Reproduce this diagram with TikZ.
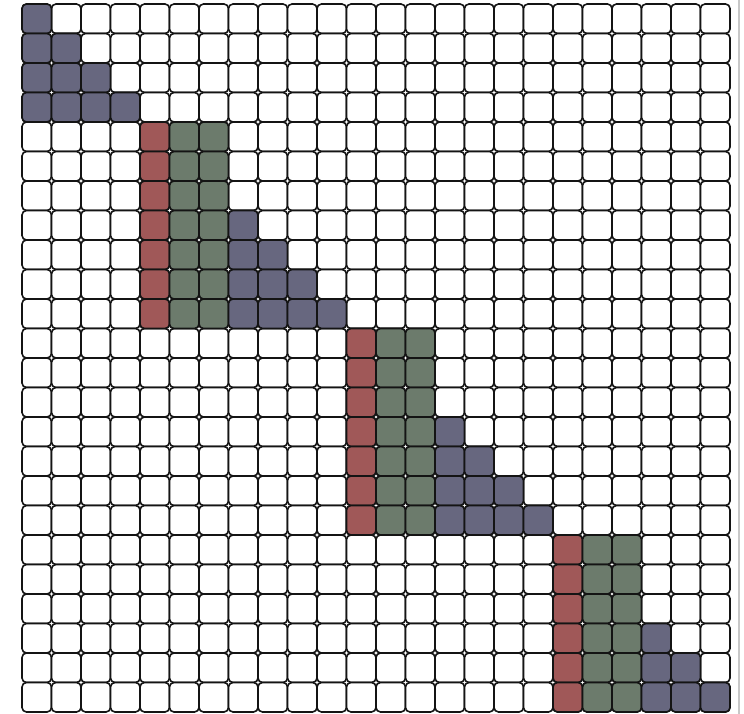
\documentclass[tikz,border=0pt]{standalone}
\usetikzlibrary{calc}
\definecolor{blockblue}{HTML}{67677F}
\definecolor{blockred}{HTML}{A05858}
\definecolor{blockgreen}{HTML}{6C7B6C}
\definecolor{edge}{HTML}{141414}
\definecolor{rim}{HTML}{C8C8C8}
\newcommand{\cellw}{29.5}
\tikzset{cellbox/.style={draw=edge, line width=1.6pt, rounded corners=4.5pt}}
\newcommand{\gridcell}[3]{%
  \pgfmathsetmacro{\cx}{22+(#1)*\cellw}
  \pgfmathsetmacro{\cy}{-4-(#2)*\cellw}
  \filldraw[cellbox, fill=#3] (\cx,\cy) rectangle ++(\cellw,-\cellw);
}
\begin{document}
\begin{tikzpicture}[x=1pt, y=1pt, line join=round]
\useasboundingbox (0,0) rectangle (744,-714);

% ---------------- empty grid ----------------
\foreach \r in {0,...,23}{
  \foreach \c in {0,...,23}{\gridcell{\c}{\r}{white}}
}

% ---------------- red / green bands ----------------
\foreach \ra/\rb/\c in {4/10/4, 11/17/11, 18/23/18}{
  \foreach \r in {\ra,...,\rb}{
    \gridcell{\c}{\r}{blockred}
    \gridcell{\c+1}{\r}{blockgreen}
    \gridcell{\c+2}{\r}{blockgreen}
  }
}

% ---------------- blue triangles ----------------
\foreach \s/\n in {0/3, 7/3, 14/3, 21/2}{
  \foreach \i in {0,...,\n}{
    \foreach \j in {0,...,\i}{\gridcell{\s+\j}{\s+\i}{blockblue}}
  }
}

% right rim
\draw[rim, line width=2pt] (738.5,0) -- (738.5,-714);

\end{tikzpicture}
\end{document}
